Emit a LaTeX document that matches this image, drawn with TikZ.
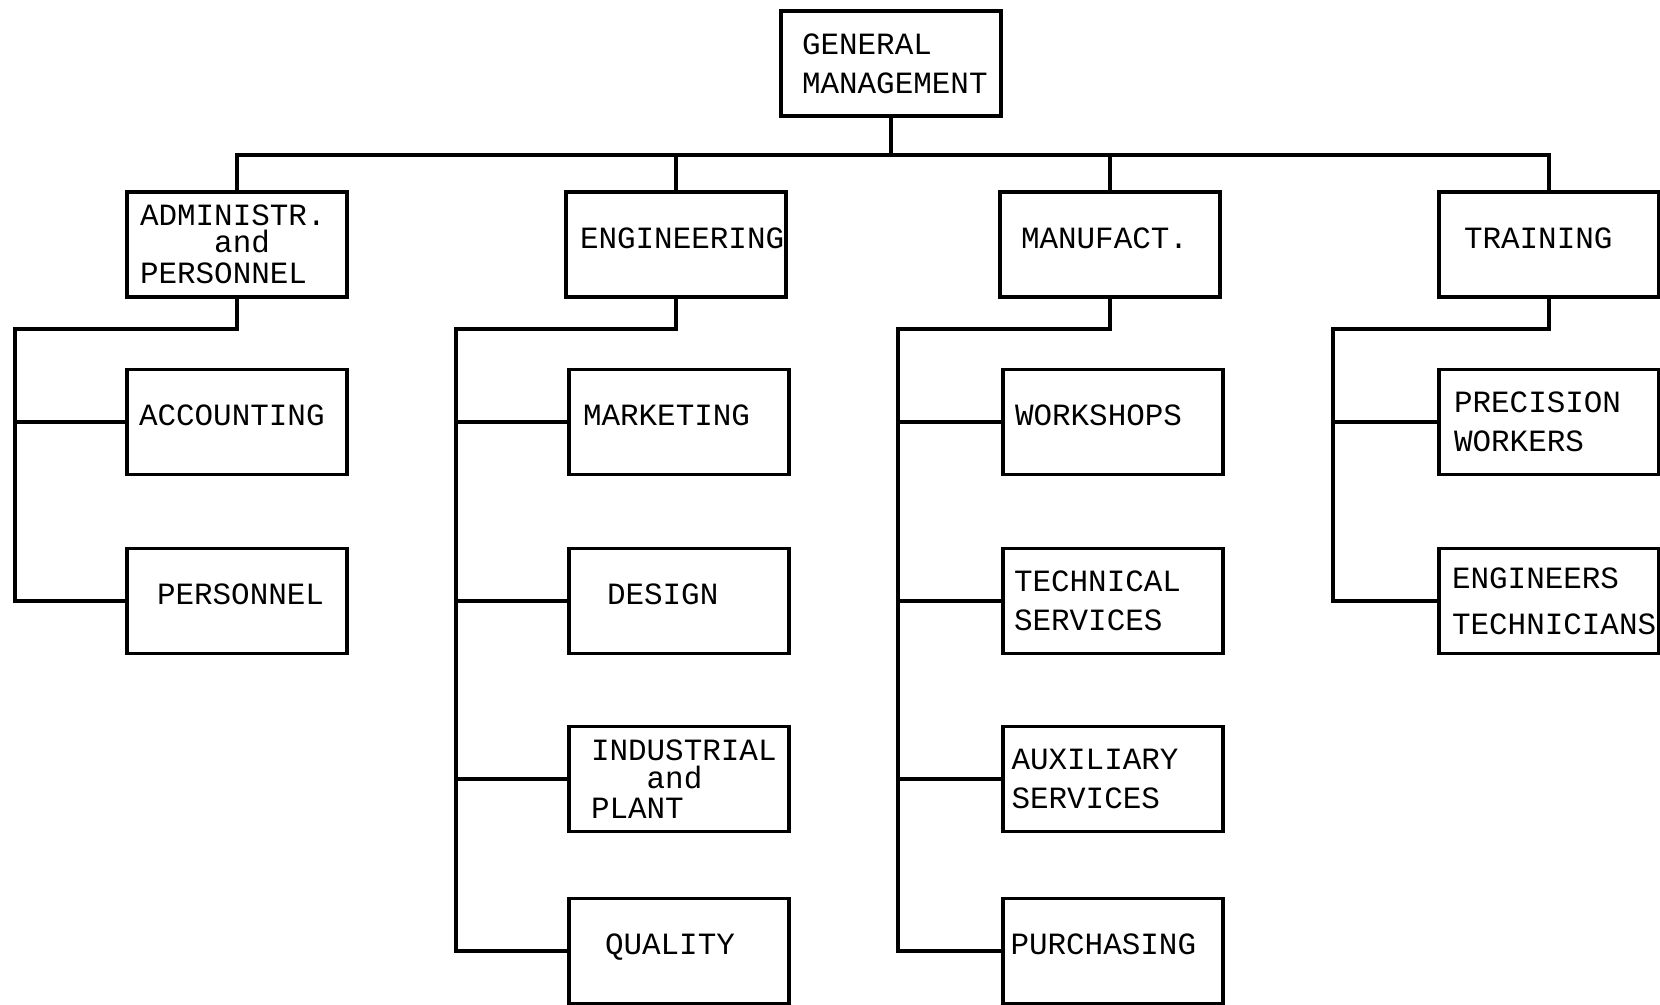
\documentclass[tikz,border=0pt]{standalone}
\usepackage{fontspec}
\setmonofont{Liberation Mono}
\usepackage{tikz}

\tikzset{
  orgbox/.style={draw, minimum width=2.2cm, minimum height=1.05cm, inner sep=0pt,
    align=left, text width=1.94cm,
    font=\ttfamily\fontsize{8.8}{11}\selectfont},
  oneline/.style={orgbox, text depth=0.13cm}
}

\begin{document}
\begin{tikzpicture}[line width=1.1pt]
\path[use as bounding box, fill=white] (0,0) rectangle (16.6,10.05);

\coordinate (bus) at (0,8.5);
\coordinate (admtr) at (0.15,6.76);
\coordinate (engtr) at (4.56,6.76);
\coordinate (mfgtr) at (8.98,6.76);
\coordinate (trntr) at (13.33,6.76);

\node[orgbox, text width=1.78cm] (gm) at (8.91,9.415) {GENERAL\\MANAGEMENT};

\node[orgbox] (adm) at (2.37,7.605) {ADMINISTR.\\[-3.3pt]\hspace*{2.4em}and\\[-2.2pt]PERSONNEL};
\node[oneline, text width=1.92cm] (eng) at (6.76,7.605) {ENGINEERING};
\node[oneline, text width=1.78cm] (mfg) at (11.10,7.605) {MANUFACT.};
\node[oneline, text width=1.70cm] (trn) at (15.49,7.605) {TRAINING};

\node[oneline, text width=1.96cm] (acc) at (2.37,5.83) {ACCOUNTING};
\node[oneline, text width=1.60cm] (pers) at (2.37,4.04) {PERSONNEL};

\node[oneline, text width=1.92cm] (mkt) at (6.79,5.83) {MARKETING};
\node[oneline, text width=1.44cm] (des) at (6.79,4.04) {DESIGN};
\node[orgbox, text width=1.76cm] (ind) at (6.79,2.26) {INDUSTRIAL\\[-2.8pt]\hspace*{1.8em}and\\[-2.6pt]PLANT};
\node[oneline, text width=1.48cm] (qua) at (6.79,0.54) {QUALITY};

\node[oneline, text width=1.96cm] (wrk) at (11.13,5.83) {WORKSHOPS};
\node[orgbox, text width=1.98cm] (tec) at (11.13,4.04) {TECHNICAL\\SERVICES};
\node[orgbox, text width=2.03cm] (aux) at (11.13,2.26) {AUXILIARY\\SERVICES};
\node[oneline, text width=2.05cm] (pur) at (11.13,0.54) {PURCHASING};

\node[orgbox, text width=1.90cm] (pre) at (15.49,5.83) {PRECISION\\WORKERS};
\node[orgbox] (ent) at (15.49,4.04) {ENGINEERS\\[2pt]TECHNICIANS};

\draw (gm.south) -- (gm.south |- bus);
\draw (adm.north) -- (adm.north |- bus) -- (trn.north |- bus) -- (trn.north);
\draw (eng.north) -- (eng.north |- bus);
\draw (mfg.north) -- (mfg.north |- bus);

\draw (adm.south) |- (admtr) |- (pers.west);
\draw (admtr |- acc.west) -- (acc.west);

\draw (eng.south) |- (engtr) |- (qua.west);
\draw (engtr |- mkt.west) -- (mkt.west);
\draw (engtr |- des.west) -- (des.west);
\draw (engtr |- ind.west) -- (ind.west);

\draw (mfg.south) |- (mfgtr) |- (pur.west);
\draw (mfgtr |- wrk.west) -- (wrk.west);
\draw (mfgtr |- tec.west) -- (tec.west);
\draw (mfgtr |- aux.west) -- (aux.west);

\draw (trn.south) |- (trntr) |- (ent.west);
\draw (trntr |- pre.west) -- (pre.west);
\end{tikzpicture}
\end{document}
